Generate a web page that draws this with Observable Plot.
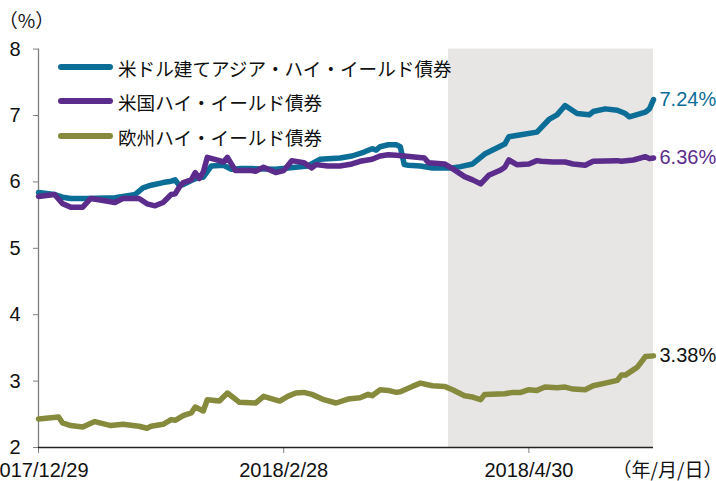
<!DOCTYPE html>
<html><head><meta charset="utf-8">
<script src="https://cdn.jsdelivr.net/npm/d3@7"></script>
<script src="https://cdn.jsdelivr.net/npm/@observablehq/plot@0.6"></script>
<style>
body{margin:0;background:#fff;}
#wrap{position:relative;width:716px;height:481px;overflow:hidden;font-family:"Liberation Sans",Arial,sans-serif;}
.lg{position:absolute;left:58px;height:24px;display:flex;align-items:center;font-family:"Noto Sans CJK JP",sans-serif;font-size:18.6px;color:#111;white-space:nowrap;}
.lg span.sw{display:inline-block;width:55px;height:6px;border-radius:3px;margin-right:5px;}
</style></head><body><div id="wrap"></div>
<script>
const seriesNames = ["米ドル建てアジア・ハイ・イールド債券", "米国ハイ・イールド債券", "欧州ハイ・イールド債券"];
const seriesColors = ["#0c6d97", "#5b2c8b", "#858a3c"];
const endLabels = ["7.24%", "6.36%", "3.38%"];
const endLabelColors = ["#0c6d97", "#5b2c8b", "#111111"];

const asiaDates = ["2017-12-29","2018-01-02","2018-01-04","2018-01-06","2018-01-10","2018-01-17","2018-01-21","2018-01-22","2018-01-24","2018-01-26","2018-01-29","2018-01-31","2018-02-01","2018-02-02","2018-02-03","2018-02-05","2018-02-07","2018-02-08","2018-02-10","2018-02-13","2018-02-15","2018-02-17","2018-02-20","2018-02-26","2018-03-06","2018-03-09","2018-03-14","2018-03-17","2018-03-20","2018-03-22","2018-03-23","2018-03-24","2018-03-26","2018-03-28","2018-03-29","2018-03-30","2018-03-31","2018-04-03","2018-04-06","2018-04-09","2018-04-11","2018-04-13","2018-04-16","2018-04-19","2018-04-21","2018-04-24","2018-04-25","2018-04-28","2018-05-02","2018-05-05","2018-05-07","2018-05-09","2018-05-12","2018-05-15","2018-05-16","2018-05-19","2018-05-22","2018-05-24","2018-05-25","2018-05-29","2018-05-30","2018-05-31"];
const asiaValues = [5.84,5.81,5.77,5.75,5.75,5.76,5.80,5.81,5.91,5.95,5.99,6.01,6.03,5.95,5.96,6.02,6.07,6.07,6.24,6.25,6.19,6.20,6.20,6.19,6.24,6.34,6.36,6.39,6.45,6.50,6.48,6.53,6.56,6.56,6.53,6.26,6.25,6.24,6.21,6.21,6.21,6.23,6.27,6.42,6.48,6.57,6.68,6.71,6.75,6.94,7.01,7.15,7.03,7.01,7.06,7.10,7.08,7.03,6.98,7.05,7.10,7.24];

const usDates = ["2017-12-29","2018-01-02","2018-01-04","2018-01-06","2018-01-09","2018-01-11","2018-01-13","2018-01-17","2018-01-19","2018-01-23","2018-01-25","2018-01-27","2018-01-29","2018-01-30","2018-01-31","2018-02-01","2018-02-02","2018-02-03","2018-02-05","2018-02-06","2018-02-07","2018-02-08","2018-02-09","2018-02-12","2018-02-13","2018-02-14","2018-02-16","2018-02-20","2018-02-21","2018-02-23","2018-02-26","2018-02-28","2018-03-02","2018-03-05","2018-03-07","2018-03-08","2018-03-11","2018-03-14","2018-03-17","2018-03-19","2018-03-22","2018-03-24","2018-03-26","2018-03-28","2018-03-30","2018-04-04","2018-04-05","2018-04-09","2018-04-11","2018-04-14","2018-04-16","2018-04-18","2018-04-20","2018-04-23","2018-04-24","2018-04-25","2018-04-27","2018-04-30","2018-05-02","2018-05-03","2018-05-06","2018-05-09","2018-05-11","2018-05-14","2018-05-16","2018-05-22","2018-05-23","2018-05-26","2018-05-29","2018-05-30","2018-05-31"];
const usValues = [5.78,5.81,5.67,5.62,5.62,5.75,5.73,5.69,5.75,5.75,5.67,5.64,5.69,5.75,5.81,5.82,5.92,5.99,6.03,6.14,6.05,6.15,6.37,6.32,6.30,6.37,6.17,6.17,6.16,6.22,6.14,6.17,6.32,6.29,6.21,6.26,6.24,6.24,6.27,6.31,6.34,6.39,6.41,6.40,6.39,6.36,6.29,6.27,6.20,6.08,6.03,5.97,6.10,6.18,6.22,6.33,6.26,6.27,6.32,6.31,6.30,6.30,6.27,6.25,6.31,6.32,6.31,6.33,6.38,6.35,6.36];

const euDates = ["2017-12-29","2018-01-03","2018-01-04","2018-01-06","2018-01-09","2018-01-12","2018-01-16","2018-01-19","2018-01-23","2018-01-25","2018-01-26","2018-01-29","2018-01-31","2018-02-01","2018-02-03","2018-02-05","2018-02-06","2018-02-08","2018-02-09","2018-02-12","2018-02-14","2018-02-17","2018-02-21","2018-02-23","2018-02-27","2018-03-01","2018-03-03","2018-03-05","2018-03-07","2018-03-10","2018-03-13","2018-03-16","2018-03-19","2018-03-21","2018-03-22","2018-03-24","2018-03-26","2018-03-28","2018-03-29","2018-04-01","2018-04-03","2018-04-06","2018-04-09","2018-04-11","2018-04-14","2018-04-16","2018-04-18","2018-04-19","2018-04-24","2018-04-26","2018-04-28","2018-04-30","2018-05-02","2018-05-04","2018-05-07","2018-05-09","2018-05-11","2018-05-14","2018-05-16","2018-05-19","2018-05-22","2018-05-23","2018-05-24","2018-05-27","2018-05-29","2018-05-31"];
const euValues = [2.43,2.46,2.37,2.33,2.31,2.39,2.33,2.35,2.32,2.29,2.32,2.35,2.42,2.41,2.48,2.52,2.61,2.55,2.72,2.70,2.82,2.68,2.67,2.77,2.70,2.77,2.82,2.83,2.80,2.72,2.67,2.73,2.75,2.80,2.78,2.87,2.86,2.83,2.84,2.92,2.97,2.93,2.92,2.87,2.78,2.76,2.72,2.80,2.81,2.83,2.83,2.87,2.86,2.91,2.90,2.91,2.88,2.87,2.93,2.97,3.01,3.09,3.09,3.21,3.37,3.38];

const xTickDates = ["2017-12-29","2018-02-28","2018-04-30"];
const yTicks = [2,3,4,5,6,7,8];
const xStart = "2017-12-29", xEnd = "2018-05-31";
const shadeStart = "2018-04-10";

const P = s => new Date(s + "T00:00:00Z");
const rows = [];
[[asiaDates, asiaValues], [usDates, usValues], [euDates, euValues]].forEach(([ds, vs], i) => {
  ds.forEach((d, j) => rows.push({series: seriesNames[i], date: P(d), value: vs[j]}));
});
const lasts = seriesNames.map((s, i) => {
  const r = rows.filter(d => d.series === s);
  return {...r[r.length - 1], label: endLabels[i], color: endLabelColors[i]};
});

const chart = Plot.plot({
  width: 716, height: 481,
  marginLeft: 38, marginRight: 63, marginTop: 48.6, marginBottom: 34,
  style: {fontFamily: "'Liberation Sans', Arial, sans-serif", fontSize: "20px", color: "#111", background: "transparent"},
  x: {type: "utc", domain: [P(xStart), P(xEnd)], label: null},
  y: {domain: [2, 8], label: null},
  color: {domain: seriesNames, range: seriesColors},
  marks: [
    Plot.rect([{a: P(shadeStart), b: P(xEnd)}], {x1: "a", x2: "b", fill: "#e7e6e5"}),
    Plot.ruleX([P(xStart)], {y1: 2, y2: 8, stroke: "#7f7f7f", strokeWidth: 1.3}),
    Plot.axisY({ticks: yTicks, tickSize: 5, tickPadding: 13, stroke: "#7f7f7f", fontSize: 20, label: null, tickFormat: d => String(d)}),
    Plot.axisX({ticks: xTickDates.map(P), tickSize: 6, tickPadding: 9, stroke: "#7f7f7f", fontSize: 20, label: null, tickFormat: d3.utcFormat("%Y/%-m/%-d")}),
    Plot.ruleY([2], {stroke: "#222", strokeWidth: 1.3}),
    Plot.line(rows, {x: "date", y: "value", z: "series", stroke: "series", strokeWidth: 5.5, strokeLinejoin: "round", strokeLinecap: "round"}),
    Plot.text(lasts, {x: "date", y: "value", text: "label", fill: "color", dx: 6, textAnchor: "start", fontSize: 20}),
    Plot.text(["（%）"], {frameAnchor: "top-left", dx: -12, dy: -27, textAnchor: "middle", lineAnchor: "middle", fontFamily: "'Noto Sans CJK JP', sans-serif", fontSize: 19, fill: "#111"}),
    Plot.text(["（年/月/日）"], {frameAnchor: "bottom-right", dx: 14, dy: 23, textAnchor: "middle", lineAnchor: "middle", fontFamily: "'Noto Sans CJK JP', sans-serif", fontSize: 19, fill: "#111"})
  ]
});
const wrap = document.getElementById("wrap");
wrap.appendChild(chart);
const legendY = [67, 101, 136];
seriesNames.forEach((s, i) => {
  const d = document.createElement("div");
  d.className = "lg";
  d.style.top = (legendY[i] - 12) + "px";
  const sw = document.createElement("span");
  sw.className = "sw";
  sw.style.background = seriesColors[i];
  d.appendChild(sw);
  d.appendChild(document.createTextNode(s));
  wrap.appendChild(d);
});
</script></body></html>
